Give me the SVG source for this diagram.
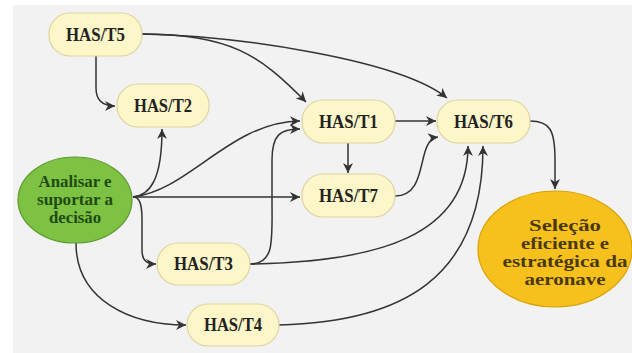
<svg xmlns="http://www.w3.org/2000/svg" width="632" height="353" viewBox="0 0 632 353">
<style>
.box{fill:#fcf6c8;stroke:#ddd4a0;stroke-width:1.2}
text{font-family:'Liberation Serif','Times New Roman',serif;font-weight:bold;font-size:18px;fill:#222;text-anchor:middle}
.g{fill:#1f4a14;font-size:16px}
.y{fill:#4a3810;font-size:16px}
.c{fill:none;stroke:#333;stroke-width:1.5;marker-end:url(#ah)}
</style>
<defs>
<marker id="ah" markerWidth="11" markerHeight="10" refX="10" refY="5" orient="auto" markerUnits="userSpaceOnUse">
<path d="M0,0 L10,5 L0,10 L3,5 z" fill="#333"/>
</marker>
</defs>
<rect x="0" y="0" width="632" height="353" fill="#ffffff"/>
<rect x="13" y="5" width="619" height="348" fill="#f2f2f2"/>
<g id="connectors">
<path class="c" d="M96,56 L96,88 Q96,106 115,106"/>
<path class="c" d="M142,34 C230,34 260,55 306,102"/>
<path class="c" d="M142,34 C240,36 400,60 447,98"/>
<path class="c" d="M133,197 C150,195 162,180 162,129"/>
<path class="c" d="M133,197 C190,190 230,122 300,121"/>
<path class="c" d="M250,264 C275,264 272,240 272,200 L272,160 C272,135 280,129 300,129"/>
<path class="c" d="M133,197 L300,197"/>
<path class="c" d="M133,197 C140,197 142,205 142,220 L142,250 C142,262 148,264 156,264"/>
<path class="c" d="M76,243 C76,300 130,325 186,325"/>
<path class="c" d="M395,121 L436,121"/>
<path class="c" d="M348,143 L348,173"/>
<path class="c" d="M395,196 C430,196 415,140 438,137"/>
<path class="c" d="M250,264 C380,262 468,235 468,146"/>
<path class="c" d="M279,325 C400,322 483,280 483,146"/>
<path class="c" d="M530,121 C550,121 555,130 555,160 L555,189"/>
</g>
<g id="T5"><rect class="box" x="49" y="13" width="93" height="43" rx="21"/><text x="95.5" y="41" textLength="59" lengthAdjust="spacingAndGlyphs">HAS/T5</text></g>
<g id="T2"><rect class="box" x="117" y="84" width="92" height="43" rx="21"/><text x="163" y="112" textLength="58" lengthAdjust="spacingAndGlyphs">HAS/T2</text></g>
<g id="T1"><rect class="box" x="302" y="100" width="93" height="43" rx="21"/><text x="348.5" y="128" textLength="59" lengthAdjust="spacingAndGlyphs">HAS/T1</text></g>
<g id="T6"><rect class="box" x="437" y="100" width="93" height="43" rx="21"/><text x="483.5" y="128" textLength="59" lengthAdjust="spacingAndGlyphs">HAS/T6</text></g>
<g id="T7"><rect class="box" x="302" y="174" width="93" height="43" rx="21"/><text x="348.5" y="202" textLength="59" lengthAdjust="spacingAndGlyphs">HAS/T7</text></g>
<g id="T3"><rect class="box" x="157" y="243" width="93" height="42" rx="21"/><text x="203.5" y="270" textLength="59" lengthAdjust="spacingAndGlyphs">HAS/T3</text></g>
<g id="T4"><rect class="box" x="187" y="304" width="92" height="42" rx="21"/><text x="233" y="331" textLength="58" lengthAdjust="spacingAndGlyphs">HAS/T4</text></g>
<g id="analisar"><ellipse cx="75" cy="200" rx="57" ry="43" fill="#7dc242" stroke="#5c9a2e" stroke-width="1.2"/>
<text class="g" x="75" y="187" textLength="73" lengthAdjust="spacingAndGlyphs">Analisar e</text>
<text class="g" x="75" y="205" textLength="76" lengthAdjust="spacingAndGlyphs">suportar a</text>
<text class="g" x="75" y="223" textLength="52" lengthAdjust="spacingAndGlyphs">decisão</text></g>
<g id="selecao"><ellipse cx="555" cy="249" rx="77" ry="58" fill="#f6c11c" stroke="#d9a200" stroke-width="1.2"/>
<text class="y" x="565" y="231" textLength="72" lengthAdjust="spacingAndGlyphs">Seleção</text>
<text class="y" x="565" y="249" textLength="88" lengthAdjust="spacingAndGlyphs">eficiente e</text>
<text class="y" x="565" y="267" textLength="125" lengthAdjust="spacingAndGlyphs">estratégica da</text>
<text class="y" x="565" y="285" textLength="81" lengthAdjust="spacingAndGlyphs">aeronave</text></g>
</svg>
